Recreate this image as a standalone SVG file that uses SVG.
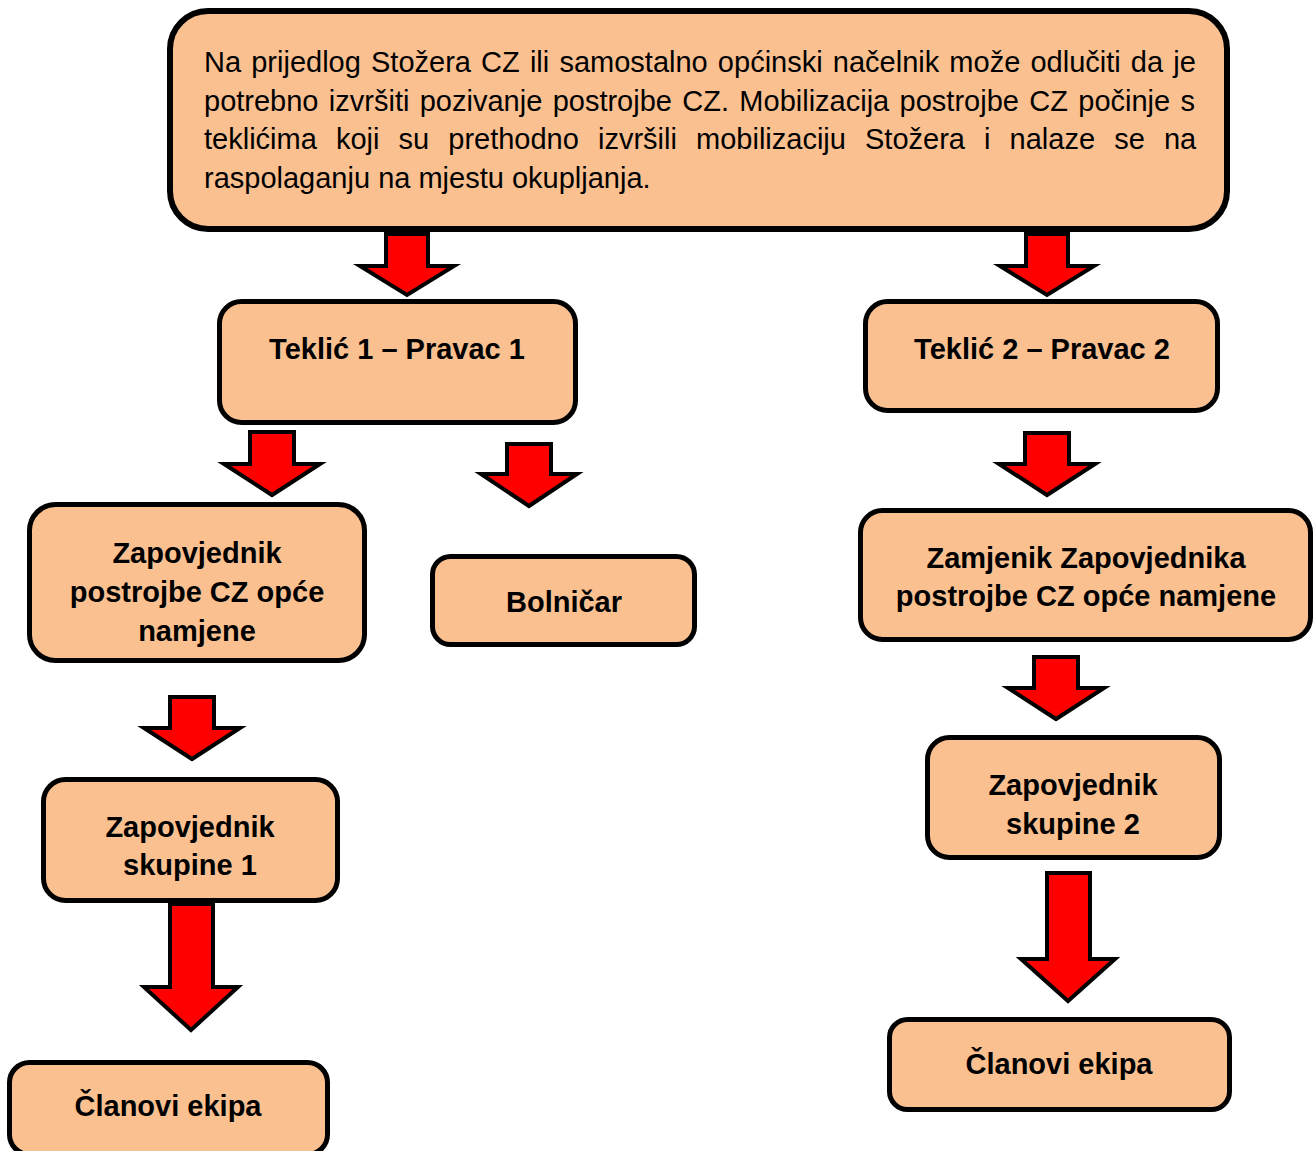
<svg xmlns="http://www.w3.org/2000/svg" width="1313" height="1151" viewBox="0 0 1313 1151">
  <style>
    .box { fill: #FAC090; stroke: #000; stroke-width: 5; }
    .arrow { fill: #FF0000; stroke: #000; stroke-width: 4; stroke-linejoin: miter; }
    .t { font-family: "Liberation Sans", Arial, sans-serif; font-size: 29px; fill: #000; }
    .b { font-family: "Liberation Sans", Arial, sans-serif; font-size: 29px; font-weight: bold; fill: #000; text-anchor: middle; }
  </style>
  <rect width="1313" height="1151" fill="#fff"/>

  <g id="connectors">
    <polygon class="arrow" points="386,234 428,234 428,266 454,266 407,295 360,266 386,266"/>
    <polygon class="arrow" points="1026,234 1068,234 1068,266 1094,266 1047,295 1000,266 1026,266"/>
    <polygon class="arrow" points="250,432 294,432 294,464 320,464 272,495 224,464 250,464"/>
    <polygon class="arrow" points="507,444 551,444 551,474 577,474 529,506 481,474 507,474"/>
    <polygon class="arrow" points="1025,433 1069,433 1069,464 1095,464 1047,495 999,464 1025,464"/>
    <polygon class="arrow" points="170,697 214,697 214,728 240,728 192,759 144,728 170,728"/>
    <polygon class="arrow" points="1034,657 1078,657 1078,688 1104,688 1056,719 1008,688 1034,688"/>
    <polygon class="arrow" points="170,904 213,904 213,987 238,987 191,1030 144,987 170,987"/>
    <polygon class="arrow" points="1047,873 1090,873 1090,959 1115,959 1068,1001 1021,959 1047,959"/>
  </g>

  <g id="node-top">
    <rect class="box" x="170" y="11" width="1057" height="218" rx="38" ry="38" style="stroke-width:6"/>
    <text class="t" x="204" y="72" word-spacing="2.1">Na prijedlog Stožera CZ ili samostalno općinski načelnik može odlučiti da je</text>
    <text class="t" x="204" y="111" word-spacing="2.3">potrebno izvršiti pozivanje postrojbe CZ. Mobilizacija postrojbe CZ počinje s</text>
    <text class="t" x="204" y="149" word-spacing="11.05">teklićima koji su prethodno izvršili mobilizaciju Stožera i nalaze se na</text>
    <text class="t" x="204" y="188">raspolaganju na mjestu okupljanja.</text>
  </g>

  <g id="node-teklic1">
    <rect class="box" x="219.5" y="301.5" width="356" height="121" rx="22" ry="22"/>
    <text class="b" x="397" y="359">Teklić 1 – Pravac 1</text>
  </g>

  <g id="node-teklic2">
    <rect class="box" x="865.5" y="301.5" width="352" height="109" rx="22" ry="22"/>
    <text class="b" x="1042" y="359">Teklić 2 – Pravac 2</text>
  </g>

  <g id="node-zapovjednik-postrojbe">
    <rect class="box" x="29.5" y="504.5" width="335" height="156" rx="26" ry="26"/>
    <text class="b" x="197" y="563">Zapovjednik</text>
    <text class="b" x="197" y="602">postrojbe CZ opće</text>
    <text class="b" x="197" y="641">namjene</text>
  </g>

  <g id="node-bolnicar">
    <rect class="box" x="432.5" y="556.5" width="262" height="88" rx="18" ry="18"/>
    <text class="b" x="564" y="612">Bolničar</text>
  </g>

  <g id="node-zapovjednik-skupine-1">
    <rect class="box" x="43.5" y="779.5" width="294" height="121" rx="22" ry="22"/>
    <text class="b" x="190" y="837">Zapovjednik</text>
    <text class="b" x="190" y="875">skupine 1</text>
  </g>

  <g id="node-clanovi-1">
    <rect class="box" x="9.5" y="1062.5" width="318" height="92" rx="20" ry="20"/>
    <text class="b" x="168" y="1116">Članovi ekipa</text>
  </g>

  <g id="node-zamjenik">
    <rect class="box" x="860.5" y="510.5" width="450" height="129" rx="22" ry="22"/>
    <text class="b" x="1086" y="568">Zamjenik Zapovjednika</text>
    <text class="b" x="1086" y="606">postrojbe CZ opće namjene</text>
  </g>

  <g id="node-zapovjednik-skupine-2">
    <rect class="box" x="927.5" y="737.5" width="292" height="120" rx="22" ry="22"/>
    <text class="b" x="1073" y="795">Zapovjednik</text>
    <text class="b" x="1073" y="834">skupine 2</text>
  </g>

  <g id="node-clanovi-2">
    <rect class="box" x="889.5" y="1019.5" width="340" height="90" rx="18" ry="18"/>
    <text class="b" x="1059" y="1074">Članovi ekipa</text>
  </g>
</svg>
